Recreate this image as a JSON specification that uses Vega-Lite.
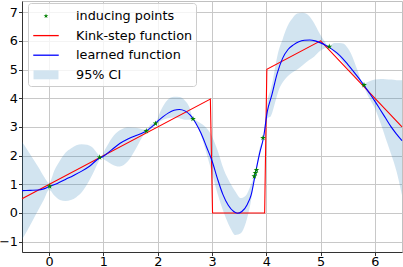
{
  "$schema": "https://vega.github.io/schema/vega-lite/v6.json",
  "width": 380,
  "height": 251,
  "autosize": {"type": "none"},
  "padding": {"left": 22, "top": 1, "right": 1, "bottom": 15},
  "background": "white",
  "config": {
    "view": {"stroke": "#c0c0c0", "strokeWidth": 1},
    "axis": {
      "labelFont": "DejaVu Sans", "labelFontSize": 12.8, "labelColor": "black",
      "domainColor": "#333", "tickColor": "#333", "tickSize": 3.5,
      "gridColor": "#c8c8c8", "gridWidth": 1, "title": null
    },
    "axisX": {"labelPadding": -0.5},
    "axisY": {"labelPadding": 1},
    "legend": {
      "title": null, "orient": "none", "legendX": 6, "legendY": 2,
      "padding": 3.5, "fillColor": "rgba(255,255,255,0.8)", "strokeColor": "#cccccc",
      "cornerRadius": 3, "symbolSize": 289, "symbolStrokeWidth": 1.3, "symbolOffset": 5,
      "labelFont": "DejaVu Sans", "labelFontSize": 12.8, "labelColor": "black",
      "labelOffset": 20.5, "rowPadding": 2.6
    }
  },
  "datasets": {
    "band": [
      {"x": -0.5, "lower": -0.92, "upper": 2.48},
      {"x": -0.4, "lower": -0.6, "upper": 2.2},
      {"x": -0.3, "lower": -0.25, "upper": 1.9},
      {"x": -0.2, "lower": 0.1, "upper": 1.6},
      {"x": -0.1, "lower": 0.45, "upper": 1.28},
      {"x": 0.0, "lower": 0.8, "upper": 1.05},
      {"x": 0.1, "lower": 0.6, "upper": 1.5},
      {"x": 0.2, "lower": 0.45, "upper": 1.83},
      {"x": 0.3, "lower": 0.42, "upper": 2.1},
      {"x": 0.4, "lower": 0.45, "upper": 2.25},
      {"x": 0.5, "lower": 0.55, "upper": 2.36},
      {"x": 0.6, "lower": 0.72, "upper": 2.4},
      {"x": 0.7, "lower": 1.0, "upper": 2.38},
      {"x": 0.8, "lower": 1.35, "upper": 2.28},
      {"x": 0.9, "lower": 1.75, "upper": 2.05},
      {"x": 0.95, "lower": 1.92, "upper": 1.98},
      {"x": 1.05, "lower": 1.82, "upper": 2.28},
      {"x": 1.15, "lower": 1.7, "upper": 2.6},
      {"x": 1.3, "lower": 1.62, "upper": 2.88},
      {"x": 1.45, "lower": 1.8, "upper": 2.99},
      {"x": 1.6, "lower": 2.25, "upper": 2.97},
      {"x": 1.7, "lower": 2.6, "upper": 2.93},
      {"x": 1.79, "lower": 2.82, "upper": 2.9},
      {"x": 1.88, "lower": 2.92, "upper": 3.1},
      {"x": 1.96, "lower": 3.1, "upper": 3.15},
      {"x": 2.05, "lower": 3.2, "upper": 3.55},
      {"x": 2.18, "lower": 3.3, "upper": 3.94},
      {"x": 2.3, "lower": 3.33, "upper": 4.05},
      {"x": 2.4, "lower": 3.3, "upper": 4.04},
      {"x": 2.5, "lower": 3.25, "upper": 3.92},
      {"x": 2.58, "lower": 3.25, "upper": 3.7},
      {"x": 2.65, "lower": 3.24, "upper": 3.3},
      {"x": 2.73, "lower": 3.05, "upper": 3.2},
      {"x": 2.85, "lower": 2.4, "upper": 3.05},
      {"x": 2.97, "lower": 1.6, "upper": 2.78},
      {"x": 3.1, "lower": 0.69, "upper": 2.2},
      {"x": 3.22, "lower": 0.0, "upper": 1.5},
      {"x": 3.34, "lower": -0.53, "upper": 1.03},
      {"x": 3.43, "lower": -0.77, "upper": 0.75},
      {"x": 3.53, "lower": -0.71, "upper": 0.52},
      {"x": 3.62, "lower": -0.36, "upper": 0.6},
      {"x": 3.71, "lower": 0.34, "upper": 0.95},
      {"x": 3.8, "lower": 1.3, "upper": 1.45},
      {"x": 3.87, "lower": 1.95, "upper": 2.2},
      {"x": 3.95, "lower": 2.58, "upper": 2.7},
      {"x": 4.02, "lower": 3.3, "upper": 3.9},
      {"x": 4.08, "lower": 3.36, "upper": 4.3},
      {"x": 4.11, "lower": 3.5, "upper": 4.52},
      {"x": 4.17, "lower": 3.9, "upper": 5.15},
      {"x": 4.23, "lower": 4.29, "upper": 5.68},
      {"x": 4.3, "lower": 4.55, "upper": 6.05},
      {"x": 4.36, "lower": 4.7, "upper": 6.38},
      {"x": 4.42, "lower": 4.81, "upper": 6.62},
      {"x": 4.48, "lower": 4.9, "upper": 6.78},
      {"x": 4.57, "lower": 5.0, "upper": 6.95},
      {"x": 4.67, "lower": 5.15, "upper": 6.98},
      {"x": 4.79, "lower": 5.33, "upper": 6.87},
      {"x": 4.88, "lower": 5.45, "upper": 6.62},
      {"x": 4.97, "lower": 5.62, "upper": 6.3},
      {"x": 5.05, "lower": 5.72, "upper": 6.05},
      {"x": 5.16, "lower": 5.78, "upper": 5.82},
      {"x": 5.25, "lower": 5.6, "upper": 5.93},
      {"x": 5.35, "lower": 5.4, "upper": 5.93},
      {"x": 5.43, "lower": 5.2, "upper": 5.9},
      {"x": 5.5, "lower": 5.05, "upper": 5.75},
      {"x": 5.56, "lower": 4.9, "upper": 5.56},
      {"x": 5.68, "lower": 4.65, "upper": 4.98},
      {"x": 5.79, "lower": 4.43, "upper": 4.5},
      {"x": 5.87, "lower": 4.1, "upper": 4.57},
      {"x": 6.0, "lower": 3.65, "upper": 4.65},
      {"x": 6.11, "lower": 3.1, "upper": 4.67},
      {"x": 6.2, "lower": 2.6, "upper": 4.66},
      {"x": 6.3, "lower": 2.05, "upper": 4.65},
      {"x": 6.4, "lower": 1.45, "upper": 4.63},
      {"x": 6.5, "lower": 0.62, "upper": 4.63}
    ],
    "mean": [
      {"x": -0.5, "y": 0.78}, {"x": -0.35, "y": 0.79}, {"x": -0.2, "y": 0.8},
      {"x": -0.1, "y": 0.84}, {"x": 0.0, "y": 0.92}, {"x": 0.15, "y": 1.03},
      {"x": 0.3, "y": 1.17}, {"x": 0.45, "y": 1.31}, {"x": 0.6, "y": 1.46},
      {"x": 0.75, "y": 1.64}, {"x": 0.9, "y": 1.88}, {"x": 1.0, "y": 1.98},
      {"x": 1.15, "y": 2.2}, {"x": 1.3, "y": 2.42}, {"x": 1.45, "y": 2.58},
      {"x": 1.6, "y": 2.7}, {"x": 1.7, "y": 2.77}, {"x": 1.8, "y": 2.87},
      {"x": 1.9, "y": 3.02}, {"x": 2.0, "y": 3.2}, {"x": 2.1, "y": 3.36},
      {"x": 2.2, "y": 3.49}, {"x": 2.3, "y": 3.58}, {"x": 2.4, "y": 3.61},
      {"x": 2.5, "y": 3.56}, {"x": 2.6, "y": 3.41}, {"x": 2.7, "y": 3.14},
      {"x": 2.8, "y": 2.77}, {"x": 2.9, "y": 2.3}, {"x": 3.0, "y": 1.82},
      {"x": 3.1, "y": 1.2}, {"x": 3.2, "y": 0.65}, {"x": 3.3, "y": 0.27},
      {"x": 3.4, "y": 0.05}, {"x": 3.47, "y": -0.01}, {"x": 3.55, "y": 0.05},
      {"x": 3.65, "y": 0.3}, {"x": 3.72, "y": 0.62}, {"x": 3.8, "y": 1.38},
      {"x": 3.88, "y": 2.1}, {"x": 3.95, "y": 2.64}, {"x": 4.02, "y": 3.55},
      {"x": 4.1, "y": 4.1}, {"x": 4.2, "y": 4.86}, {"x": 4.3, "y": 5.39},
      {"x": 4.4, "y": 5.7}, {"x": 4.5, "y": 5.86}, {"x": 4.6, "y": 5.97},
      {"x": 4.7, "y": 6.02}, {"x": 4.8, "y": 6.03}, {"x": 4.9, "y": 6.0},
      {"x": 5.0, "y": 5.93}, {"x": 5.1, "y": 5.84}, {"x": 5.2, "y": 5.72},
      {"x": 5.3, "y": 5.58}, {"x": 5.4, "y": 5.4}, {"x": 5.5, "y": 5.18},
      {"x": 5.6, "y": 4.95}, {"x": 5.7, "y": 4.71}, {"x": 5.8, "y": 4.45},
      {"x": 5.9, "y": 4.18}, {"x": 6.0, "y": 3.9}, {"x": 6.1, "y": 3.6},
      {"x": 6.2, "y": 3.3}, {"x": 6.3, "y": 3.0}, {"x": 6.4, "y": 2.75},
      {"x": 6.5, "y": 2.52}
    ],
    "kink": [
      {"x": -0.5, "y": 0.5}, {"x": 2.97, "y": 3.97}, {"x": 3.01, "y": 0.0},
      {"x": 3.97, "y": 0.0}, {"x": 4.01, "y": 5.01}, {"x": 5.0, "y": 6.0},
      {"x": 6.5, "y": 3.0}
    ],
    "inducing": [
      {"x": 0.01, "y": 0.93, "series": "inducing points"},
      {"x": 0.93, "y": 1.94, "series": "inducing points"},
      {"x": 1.79, "y": 2.86, "series": "inducing points"},
      {"x": 1.96, "y": 3.12, "series": "inducing points"},
      {"x": 2.65, "y": 3.28, "series": "inducing points"},
      {"x": 3.78, "y": 1.28, "series": "inducing points"},
      {"x": 3.8, "y": 1.4, "series": "inducing points"},
      {"x": 3.82, "y": 1.5, "series": "inducing points"},
      {"x": 3.94, "y": 2.62, "series": "inducing points"},
      {"x": 5.16, "y": 5.8, "series": "inducing points"},
      {"x": 5.8, "y": 4.46, "series": "inducing points"}
    ]
  },
  "encoding": {
    "x": {"type": "quantitative", "scale": {"domain": [-0.5, 6.5], "nice": false, "zero": false},
          "axis": {"values": [0, 1, 2, 3, 4, 5, 6], "grid": true}},
    "y": {"type": "quantitative", "scale": {"domain": [-1.36, 7.39], "nice": false, "zero": false},
          "axis": {"values": [-1, 0, 1, 2, 3, 4, 5, 6, 7], "grid": true}}
  },
  "layer": [
    {
      "data": {"name": "band"},
      "mark": {"type": "area", "color": "#1f77b4", "opacity": 0.2, "interpolate": "monotone"},
      "encoding": {
        "x": {"field": "x", "type": "quantitative"},
        "y": {"field": "lower", "type": "quantitative"},
        "y2": {"field": "upper"}
      }
    },
    {
      "data": {"name": "kink"},
      "mark": {"type": "line", "color": "#ff0000", "strokeWidth": 1.1},
      "encoding": {
        "x": {"field": "x", "type": "quantitative"},
        "y": {"field": "y", "type": "quantitative"}
      }
    },
    {
      "data": {"name": "mean"},
      "mark": {"type": "line", "color": "#0000ff", "strokeWidth": 1.1, "interpolate": "monotone"},
      "encoding": {
        "x": {"field": "x", "type": "quantitative"},
        "y": {"field": "y", "type": "quantitative"}
      }
    },
    {
      "data": {"name": "inducing"},
      "mark": {"type": "point", "filled": true, "opacity": 1, "size": 400, "strokeWidth": 1.3},
      "encoding": {
        "x": {"field": "x", "type": "quantitative"},
        "y": {"field": "y", "type": "quantitative"},
        "fill": {
          "field": "series", "type": "nominal",
          "scale": {"domain": ["inducing points", "Kink-step function", "learned function", "95% CI"],
                    "range": ["#008000", "transparent", "transparent", "#d2e4f0"]}
        },
        "stroke": {
          "field": "series", "type": "nominal",
          "scale": {"domain": ["inducing points", "Kink-step function", "learned function", "95% CI"],
                    "range": ["transparent", "#ff0000", "#0000ff", "transparent"]}
        },
        "shape": {
          "field": "series", "type": "nominal",
          "scale": {"domain": ["inducing points", "Kink-step function", "learned function", "95% CI"],
                    "range": ["M0,-0.3L0.068,-0.094L0.285,-0.093L0.11,0.036L0.176,0.243L0,0.116L-0.176,0.243L-0.11,0.036L-0.285,-0.093L-0.068,-0.094Z",
                              "M-1.5,0L1.5,0", "M-1.5,0L1.5,0", "M-1.47,-0.53L1.47,-0.53L1.47,0.53L-1.47,0.53Z"]}
        }
      }
    }
  ]
}
